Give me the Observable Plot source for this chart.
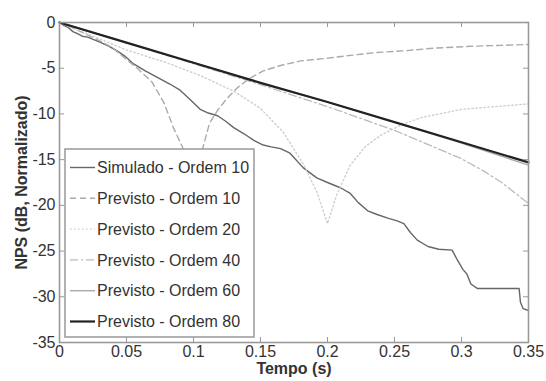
<!DOCTYPE html>
<html><head><meta charset="utf-8">
<script src="https://cdn.jsdelivr.net/npm/d3@7"></script>
<script src="https://cdn.jsdelivr.net/npm/@observablehq/plot@0.6"></script>
<style>
body{margin:0;background:#fff;}
#chart svg{font-family:"Liberation Sans",Arial,sans-serif;overflow:visible;}
</style></head><body><div id="chart"></div>
<script>
const xTicks = [0, 0.05, 0.1, 0.15, 0.2, 0.25, 0.3, 0.35];
const xTickLabels = ["0", "0.05", "0.1", "0.15", "0.2", "0.25", "0.3", "0.35"];
const yTicks = [0, -5, -10, -15, -20, -25, -30, -35];
const yTickLabels = ["0", "-5", "-10", "-15", "-20", "-25", "-30", "-35"];
const xLabel = "Tempo (s)";
const yLabel = "NPS (dB, Normalizado)";

const simT = [0,0.003,0.006,0.010,0.013,0.017,0.021,0.026,0.031,0.037,0.043,0.049,0.055,0.064,0.073,0.082,0.090,0.098,0.105,0.111,0.118,0.124,0.130,0.138,0.145,0.152,0.158,0.165,0.172,0.182,0.192,0.200,0.210,0.217,0.223,0.230,0.237,0.245,0.252,0.257,0.262,0.267,0.275,0.283,0.293,0.297,0.301,0.304,0.307,0.312,0.343,0.344,0.346,0.350];
const simV = [0,-0.3,-0.5,-1.0,-1.2,-1.5,-1.6,-1.9,-2.2,-2.6,-3.1,-3.7,-4.5,-5.3,-6.0,-6.7,-7.4,-8.5,-9.5,-9.9,-10.2,-10.8,-11.5,-12.2,-12.9,-13.4,-13.6,-13.8,-14.3,-15.9,-17.0,-17.5,-18.1,-18.7,-19.7,-20.6,-21.0,-21.4,-21.7,-22.0,-23.0,-23.8,-24.5,-24.8,-24.9,-26.0,-27.0,-27.5,-28.6,-29.1,-29.1,-30.6,-31.3,-31.5];

const o10T = [0,0.01,0.02,0.03,0.04,0.048,0.058,0.069,0.078,0.085,0.092,0.097,0.100,0.103,0.107,0.112,0.118,0.125,0.133,0.142,0.152,0.165,0.180,0.200,0.217,0.235,0.257,0.280,0.307,0.330,0.350];
const o10V = [0,-0.6,-1.3,-2.0,-2.8,-3.8,-5.0,-6.5,-8.8,-11.5,-13.7,-18,-30,-20,-13.7,-11.0,-9.6,-8.3,-7.1,-6.1,-5.3,-4.7,-4.2,-3.9,-3.6,-3.3,-3.1,-2.8,-2.6,-2.5,-2.4];

const o20T = [0,0.02,0.05,0.08,0.105,0.13,0.15,0.167,0.182,0.192,0.200,0.207,0.217,0.228,0.240,0.255,0.270,0.300,0.350];
const o20V = [0,-1.2,-3.0,-4.4,-5.8,-7.5,-9.4,-12.0,-15.5,-18.5,-22.0,-18.8,-15.6,-13.6,-12.3,-11.2,-10.4,-9.5,-8.9];

const o40T = [0,0.05,0.1,0.15,0.2,0.25,0.284,0.30,0.316,0.33,0.35];
const o40V = [0,-2.25,-4.5,-6.8,-9.2,-11.8,-13.9,-14.9,-16.2,-17.5,-19.8];

const o60T = [0,0.05,0.1,0.15,0.2,0.25,0.3,0.35];
const o60V = [0,-2.2,-4.4,-6.6,-8.7,-10.9,-13.2,-15.6];

const o80T = [0,0.05,0.1,0.15,0.2,0.25,0.3,0.35];
const o80V = [0,-2.2,-4.4,-6.6,-8.7,-10.9,-13.1,-15.3];

const seriesNames = ["Simulado - Ordem 10","Previsto - Ordem 10","Previsto - Ordem 20","Previsto - Ordem 40","Previsto - Ordem 60","Previsto - Ordem 80"];
const seriesT = [simT, o10T, o20T, o40T, o60T, o80T];
const seriesV = [simV, o10V, o20V, o40V, o60V, o80V];
const styles = [
  {stroke:"#666", strokeWidth:1.4, dash:null},
  {stroke:"#aaa", strokeWidth:1.4, dash:"6,4"},
  {stroke:"#ccc", strokeWidth:1.3, dash:"1.5,2.5"},
  {stroke:"#bbb", strokeWidth:1.3, dash:"8,3,2,3"},
  {stroke:"#aaa", strokeWidth:1.4, dash:null},
  {stroke:"#222", strokeWidth:2.2, dash:null}
];

const W = 546, H = 381, mL = 59, mR = 18, mT = 22, mB = 39;
const pw = W - mL - mR, ph = H - mT - mB;
const axisColor = "#999", textColor = "#333";

const lineMarks = seriesNames.map((name, k) => {
  const data = seriesT[k].map((t, i) => ({t, v: seriesV[k][i]}));
  return Plot.line(data, {x: "t", y: "v", stroke: styles[k].stroke, strokeWidth: styles[k].strokeWidth,
    strokeDasharray: styles[k].dash, curve: "linear"});
});

const chart = Plot.plot({
  width: W, height: H,
  marginLeft: mL, marginRight: mR, marginTop: mT, marginBottom: mB,
  x: {domain: [0, 0.35]},
  y: {domain: [-35, 0]},
  style: {fontFamily: '"Liberation Sans", Arial, sans-serif', color: textColor, background: "#fff"},
  marks: [
    ...lineMarks,
    Plot.frame({stroke: axisColor, strokeWidth: 1.6}),
    Plot.tickX(xTicks, {x: d => d, insetTop: ph - 5, stroke: axisColor}),
    Plot.tickX(xTicks, {x: d => d, insetBottom: ph - 5, stroke: axisColor}),
    Plot.tickY(yTicks, {y: d => d, insetLeft: pw - 5, stroke: axisColor}),
    Plot.tickY(yTicks, {y: d => d, insetRight: pw - 5, stroke: axisColor}),
    Plot.axisX({ticks: xTicks, tickSize: 0, tickPadding: 3, tickFormat: (d) => xTickLabels[xTicks.indexOf(d)], fontSize: 16, label: null, fill: textColor}),
    Plot.axisY({ticks: yTicks, tickSize: 0, tickPadding: 4, tickFormat: (d) => yTickLabels[yTicks.indexOf(d)], fontSize: 16, label: null, fill: textColor}),
    Plot.text([xLabel], {frameAnchor: "bottom", dy: 31, textAnchor: "middle", fontWeight: "bold", fontSize: 16, fill: textColor}),
    Plot.text([yLabel], {frameAnchor: "left", dx: -38, textAnchor: "middle", rotate: -90, fontWeight: "bold", fontSize: 16, fill: textColor})
  ]
});
document.getElementById("chart").appendChild(chart);

// Legend (MATLAB-style box inside the axes)
const svg = d3.select(chart);
const lg = svg.append("g").attr("class", "legend").attr("text-anchor", "start");
const lx = 65, ly = 149, lw = 189, lh = 188, rowH = 30.8, firstRow = 167.5;
lg.append("rect").attr("x", lx).attr("y", ly).attr("width", lw).attr("height", lh)
  .attr("fill", "#fff").attr("stroke", axisColor).attr("stroke-width", 1.5);
seriesNames.forEach((name, k) => {
  const y = firstRow + k * rowH;
  lg.append("line").attr("x1", 70).attr("x2", 95).attr("y1", y).attr("y2", y)
    .attr("stroke", styles[k].stroke).attr("stroke-width", styles[k].strokeWidth)
    .attr("stroke-dasharray", styles[k].dash);
  lg.append("text").attr("x", 97).attr("y", y).attr("dy", "0.35em").attr("text-anchor", "start")
    .attr("font-size", 16).attr("fill", textColor).text(name);
});
</script></body></html>
